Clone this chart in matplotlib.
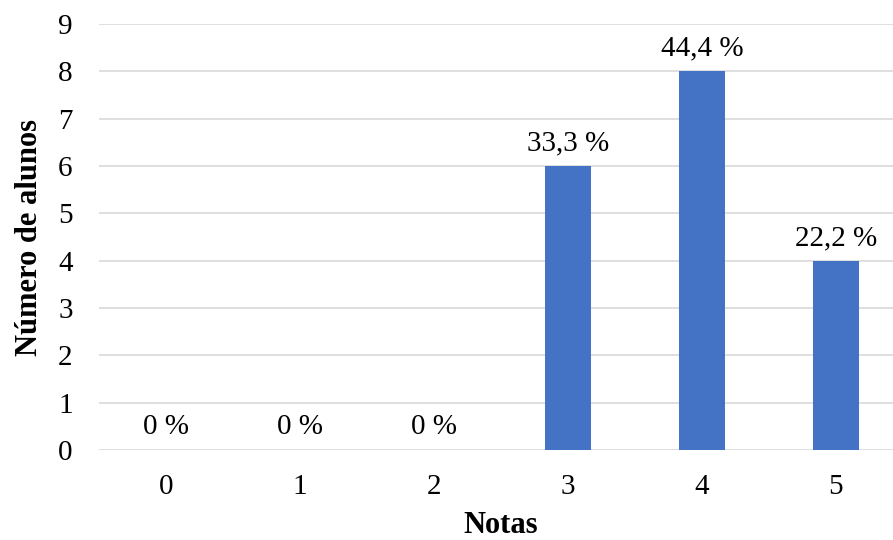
import matplotlib
matplotlib.use("Agg")
import matplotlib.pyplot as plt

notas = ["0", "1", "2", "3", "4", "5"]
alunos = [0, 0, 0, 6, 8, 4]
percentuais = ["0 %", "0 %", "0 %", "33,3 %", "44,4 %", "22,2 %"]
y_ticks = list(range(0, 10))

plt.rcParams["font.family"] = ["Liberation Serif", "DejaVu Serif"]

fig = plt.figure(figsize=(8.93, 5.40), dpi=100)
ax = fig.add_axes([99 / 893, 90 / 540, 804 / 893, 426 / 540])

x = list(range(len(notas)))
bars = ax.bar(x, alunos, width=0.35, color="#4472C4", zorder=3)

for xi, val, txt in zip(x, alunos, percentuais):
    ax.annotate(txt, (xi, val), xytext=(0, 7), textcoords="offset points",
                ha="center", va="bottom", fontsize=21, color="#000000")

ax.set_xlim(-0.5, 5.5)
ax.set_ylim(0, 9)
ax.set_xticks(x)
ax.set_xticklabels(notas)
ax.set_yticks(y_ticks)
ax.tick_params(axis="both", length=0, labelsize=21, colors="#000000")
ax.tick_params(axis="x", pad=17)
ax.tick_params(axis="y", pad=19)

ax.yaxis.grid(True, color="#d9d9d9", linewidth=1.2, zorder=0)
ax.set_axisbelow(True)
for s in ax.spines.values():
    s.set_visible(False)

ax.set_xlabel("Notas", fontsize=22, fontweight="bold", labelpad=8)
ax.set_ylabel("Número de alunos", fontsize=22, fontweight="bold", labelpad=10)

fig.savefig("out.png", dpi=100)
